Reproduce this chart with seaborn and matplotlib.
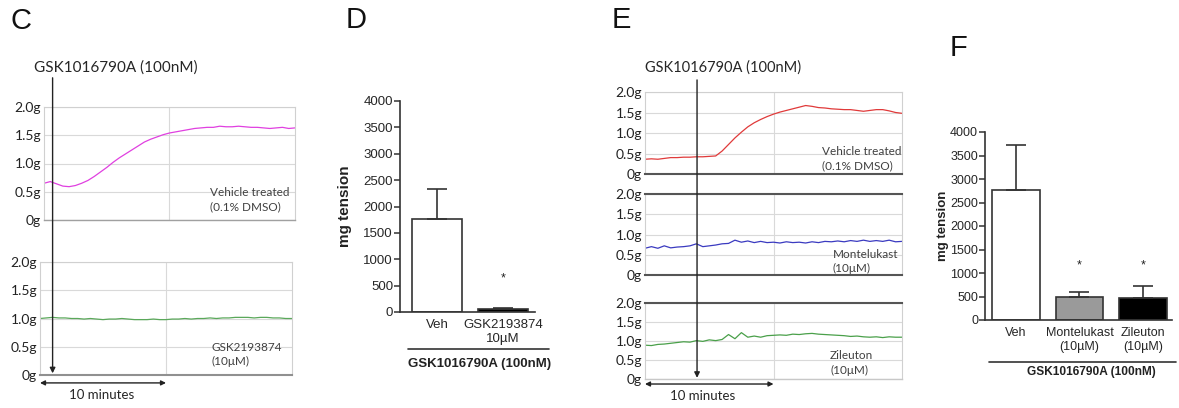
import numpy as np
import seaborn as sns
import matplotlib.pyplot as plt

W, H = 1179, 408

# time axis of the tension traces (minutes)
minutes = np.arange(0, 20.5, 0.5)

# panel C traces (g)
c_vehicle = [0.65, 0.68, 0.64, 0.60, 0.59, 0.61, 0.65, 0.70, 0.77, 0.85,
             0.93, 1.02, 1.10, 1.17, 1.24, 1.31, 1.38, 1.43, 1.47, 1.51,
             1.54, 1.56, 1.58, 1.60, 1.62, 1.63, 1.64, 1.64, 1.66, 1.65,
             1.65, 1.66, 1.65, 1.64, 1.64, 1.63, 1.62, 1.63, 1.64, 1.62, 1.63]
c_gsk219 = [1.00, 1.01, 1.02, 1.01, 1.01, 1.00, 1.00, 0.99, 1.00, 0.99,
            0.98, 0.99, 0.99, 1.00, 0.99, 0.98, 0.98, 0.98, 0.99, 0.98,
            0.98, 0.99, 0.99, 1.00, 0.99, 1.00, 1.00, 1.01, 1.00, 1.01,
            1.01, 1.02, 1.02, 1.02, 1.01, 1.02, 1.02, 1.01, 1.01, 1.00, 1.00]

# panel E traces (g)
e_vehicle = [0.36, 0.37, 0.36, 0.38, 0.40, 0.40, 0.41, 0.41, 0.42, 0.42,
             0.43, 0.44, 0.56, 0.72, 0.88, 1.02, 1.15, 1.25, 1.33, 1.40,
             1.46, 1.51, 1.55, 1.59, 1.63, 1.67, 1.65, 1.62, 1.61, 1.59,
             1.58, 1.57, 1.57, 1.55, 1.53, 1.55, 1.57, 1.57, 1.54, 1.50, 1.48]
e_montelukast = [0.66, 0.70, 0.66, 0.72, 0.67, 0.69, 0.70, 0.72, 0.77, 0.70,
                 0.72, 0.74, 0.77, 0.78, 0.86, 0.81, 0.84, 0.80, 0.83, 0.80,
                 0.81, 0.79, 0.82, 0.80, 0.81, 0.79, 0.82, 0.80, 0.83, 0.82,
                 0.84, 0.82, 0.85, 0.83, 0.86, 0.83, 0.85, 0.83, 0.86, 0.82, 0.83]
e_zileuton = [0.89, 0.88, 0.91, 0.92, 0.94, 0.96, 0.98, 0.97, 1.01, 0.99,
              1.03, 1.01, 1.04, 1.17, 1.06, 1.22, 1.10, 1.13, 1.10, 1.14,
              1.15, 1.16, 1.15, 1.18, 1.17, 1.19, 1.20, 1.18, 1.17, 1.16,
              1.15, 1.14, 1.12, 1.13, 1.11, 1.10, 1.11, 1.09, 1.11, 1.10, 1.10]

drug_time_c = 1.0
drug_time_e = 4.05

g_ticks = [0, 0.5, 1.0, 1.5, 2.0]
g_labels = ['0g', '0.5g', '1.0g', '1.5g', '2.0g']

# panel D
d_groups = ['Veh', 'GSK2193874\n10\u00b5M']
d_means = [1760, 60]
d_sem = [580, 25]
d_colors = ['white', 'black']
d_star = 570

# panel F
f_groups = ['Veh', 'Montelukast\n(10\u00b5M)', 'Zileuton\n(10\u00b5M)']
f_means = [2760, 500, 460]
f_sem = [970, 100, 270]
f_colors = ['white', '#9a9a9a', 'black']
f_star = 1100

mg_ticks = list(range(0, 4001, 500))

sns.set_theme(style='white')
plt.rcParams['font.family'] = ['Lato', 'DejaVu Sans']

fig = plt.figure(figsize=(W / 100, H / 100), dpi=100)


def box(x0, y0, x1, y1):
    return [x0 / W, 1 - y1 / H, (x1 - x0) / W, (y1 - y0) / H]


def trace(rect, values, color, label, lx, ly, top=('#d0d0d0', 0.8), bot=('#a0a0a0', 1.0)):
    ax = fig.add_axes(rect)
    sns.lineplot(x=minutes, y=values, color=color, lw=0.9, ax=ax)
    ax.set_xlim(0, 20)
    ax.set_ylim(0, 2.0)
    ax.set_yticks(g_ticks)
    ax.set_yticklabels(g_labels)
    ax.set_xticks([10])
    ax.set_xlabel('')
    ax.set_ylabel('')
    ax.grid(True, color='#d9d9d9', lw=0.8)
    ax.tick_params(axis='x', length=0, labelbottom=False)
    ax.tick_params(axis='y', length=0, pad=2, labelsize=10, labelcolor='#222222')
    for s in ['left', 'right']:
        ax.spines[s].set_color('#d0d0d0')
        ax.spines[s].set_linewidth(0.8)
    ax.spines['top'].set_color(top[0])
    ax.spines['top'].set_linewidth(top[1])
    ax.spines['bottom'].set_color(bot[0])
    ax.spines['bottom'].set_linewidth(bot[1])
    ax.text(lx, ly, label, transform=ax.transAxes, fontsize=8.5, color='#404040',
            va='center', ha='left', linespacing=1.35)
    return ax


def arrows(ax, drug_t, top_y, span_y, text_x, text_y):
    ax.annotate('', xy=(drug_t, 0.03), xytext=(drug_t, top_y),
                arrowprops=dict(arrowstyle='-|>', color='#222222', lw=1.0,
                                shrinkA=0, shrinkB=0, mutation_scale=8),
                annotation_clip=False)
    tr = ax.get_xaxis_transform()
    ax.annotate('', xy=(0, span_y), xytext=(10, span_y), xycoords=tr,
                arrowprops=dict(arrowstyle='<|-|>', color='#222222', lw=1.0,
                                shrinkA=0, shrinkB=0, mutation_scale=7),
                annotation_clip=False)
    ax.text(text_x, text_y, '10 minutes', transform=tr, ha='center', va='center',
            fontsize=9.5, color='#262626')


def bars(rect, groups, means, sem, colors, star, xlim, fs, ylab_fs, ylab_x,
         line_y, line_x, lab_y, lab_x, lab_fs):
    ax = fig.add_axes(rect)
    sns.barplot(x=groups, y=means, hue=groups, palette=colors, legend=False,
                edgecolor='#333333', linewidth=1.2, width=0.75, ax=ax)
    n = len(groups)
    ax.errorbar(range(n), means, yerr=[np.zeros(n), sem], fmt='none',
                ecolor='#333333', elinewidth=1.2, capsize=7, capthick=1.2,
                clip_on=False)
    for i in range(1, n):
        ax.text(i, star, '*', ha='center', va='baseline', fontsize=9,
                fontfamily='Liberation Sans', color='#222222')
    ax.set_ylim(0, 4000)
    ax.set_xlim(*xlim)
    ax.set_yticks(mg_ticks)
    ax.set_xlabel('')
    ax.set_ylabel('mg tension', fontweight='bold', fontsize=ylab_fs,
                  fontfamily='Liberation Sans', color='#222222')
    ax.yaxis.set_label_coords(ylab_x, 0.5)
    sns.despine(ax=ax)
    for s in ['left', 'bottom']:
        ax.spines[s].set_color('#333333')
        ax.spines[s].set_linewidth(1.2)
    ax.tick_params(axis='y', length=4, width=1.1, color='#333333', pad=1,
                   labelsize=fs, left=True)
    ax.tick_params(axis='x', length=0, pad=5, labelsize=fs)
    for lab in ax.get_xticklabels() + ax.get_yticklabels():
        lab.set_fontfamily('Liberation Sans')
        lab.set_color('#262626')
    ax.plot(line_x, [line_y, line_y], transform=ax.transAxes, clip_on=False,
            color='#333333', lw=1.2)
    ax.text(lab_x, lab_y, 'GSK1016790A (100nM)', transform=ax.transAxes,
            ha='center', va='center', fontsize=lab_fs, fontweight='bold',
            fontfamily='Liberation Sans', color='#222222')
    return ax


# ---- panel C
axC1 = trace(box(44, 107, 295, 220), c_vehicle, '#e040e0',
             'Vehicle treated\n(0.1% DMSO)', 0.66, 0.18)
axC2 = trace(box(40, 262, 292, 375), c_gsk219, '#5aa85a',
             'GSK2193874\n(10\u03bcM)', 0.68, 0.18, bot=('#909090', 1.5))
arrows(axC2, drug_time_c, 5.26, -0.07, 4.9, -0.18)
fig.text(116 / W, 1 - 68 / H, 'GSK1016790A (100nM)', ha='center', va='center',
         fontsize=11, color='#262626')

# ---- panel E
dark = ('#555555', 1.5)
axE1 = trace(box(645, 92, 902, 174), e_vehicle, '#e03a3a',
             'Vehicle treated\n(0.1% DMSO)', 0.69, 0.19, bot=dark)
axE2 = trace(box(645, 194, 902, 275), e_montelukast, '#3a3ac0',
             'Montelukast\n(10\u03bcM)', 0.73, 0.17, top=dark, bot=dark)
axE3 = trace(box(645, 303, 902, 379), e_zileuton, '#4aa04a',
             'Zileuton\n(10\u03bcM)', 0.72, 0.21, top=dark, bot=('#c8c8c8', 1.0))
arrows(axE3, drug_time_e, 7.87, -0.066, 4.5, -0.22)
fig.text(723 / W, 1 - 68 / H, 'GSK1016790A (100nM)', ha='center', va='center',
         fontsize=10.5, color='#262626')

# ---- panel D
bars(box(400, 101, 535, 312), d_groups, d_means, d_sem, d_colors, d_star,
     (-0.56, 1.48), 9.5, 11, -0.355, -0.175, [0.06, 1.10], -0.246, 0.59, 9.5)

# ---- panel F
bars(box(985, 132, 1172, 320), f_groups, f_means, f_sem, f_colors, f_star,
     (-0.49, 2.46), 9, 9.5, -0.19, -0.223, [0.02, 1.02], -0.277, 0.57, 8.6)

# panel letters
for letter, x, y in [('C', 10, 21), ('D', 346, 20), ('E', 612, 20), ('F', 950, 48)]:
    fig.text(x / W, 1 - y / H, letter, ha='left', va='center', fontsize=21,
             fontfamily='Liberation Sans', color='#111111')

fig.savefig('out.png', dpi=100)
